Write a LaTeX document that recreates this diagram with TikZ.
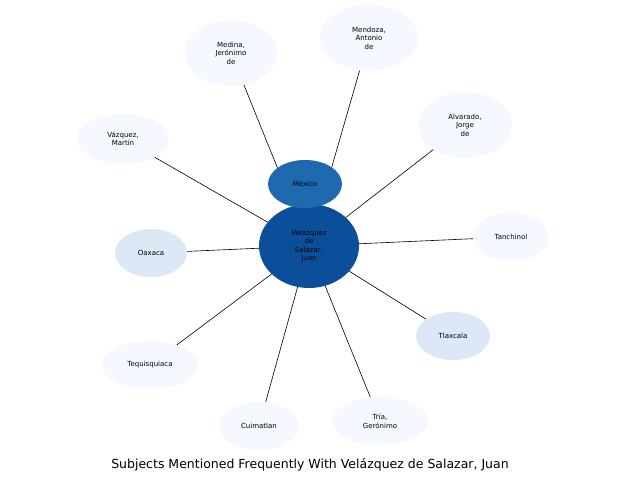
\documentclass[tikz,border=0pt]{standalone}
\usepackage{fontspec}
\setmainfont{DejaVu Sans}
\usetikzlibrary{shapes.geometric}
\begin{document}
\begin{tikzpicture}[x=1pt,y=-1pt,
  n/.style={ellipse,draw=none,fill=#1,align=center,inner sep=0pt,font=\fontsize{7}{8.5}\selectfont},
  e/.style={draw=black,line width=0.6pt}]
\useasboundingbox (0,0) rectangle (627,487);
\definecolor{cA}{HTML}{0B4F9B}\definecolor{cB}{HTML}{1F69AE}
\definecolor{cL}{HTML}{DCE8F5}\definecolor{cV}{HTML}{F5F8FE}
\tikzset{sz/.style 2 args={minimum width=#1,minimum height=#2}}
\coordinate (c) at (309,246);
\node[n=cV,sz={92pt}{66pt}] (med) at (231,53) {Medina,\\Jerónimo\\de};
\node[n=cV,sz={98pt}{66pt}] (men) at (369,38) {Mendoza,\\Antonio\\de};
\node[n=cV,sz={92pt}{50pt}] (vaz) at (123,139) {Vázquez,\\Martín};
\node[n=cV,sz={94pt}{66pt}] (alv) at (465,125) {Alvarado,\\Jorge\\de};
\node[n=cV,sz={76pt}{48pt}] (tan) at (511,237) {Tanchinol};
\node[n=cL,sz={72pt}{48pt}] (oax) at (151,253) {Oaxaca};
\node[n=cL,sz={74pt}{48pt}] (tla) at (453,336) {Tlaxcala};
\node[n=cV,sz={96pt}{48pt}] (teq) at (150,365) {Tequisquiaca};
\node[n=cV,sz={80pt}{48pt}] (cui) at (259,426) {Cuimatlan};
\node[n=cV,sz={96pt}{48pt}] (tri) at (380,421) {Tría,\\Gerónimo};
\foreach \t in {med,men,vaz,alv,tan,oax,tla,teq,cui,tri}{\draw[e] (c) -- (\t);}
\node[n=cA,sz={100pt}{84pt}] (ctr) at (c) {Velázquez\\de\\Salazar,\\Juan};
\node[n=cB,sz={74pt}{48pt}] (mex) at (305,184) {México};
\node[font=\fontsize{12.5}{15}\selectfont] (title) at (310,465) {Subjects Mentioned Frequently With Velázquez de Salazar, Juan};
\end{tikzpicture}
\end{document}
